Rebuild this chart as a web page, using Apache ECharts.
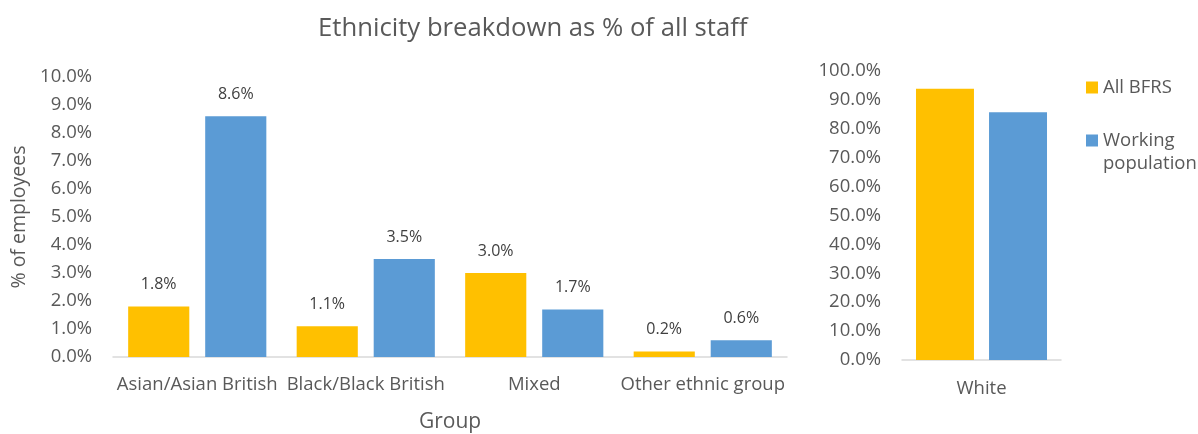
<!DOCTYPE html>
<html>
<head>
<meta charset="utf-8">
<script src="https://cdn.jsdelivr.net/npm/echarts@6/dist/echarts.min.js"></script>
<style>
  html, body { margin: 0; padding: 0; background: #fff; }
  #chart { width: 1198px; height: 434px; }
</style>
</head>
<body>
<div id="chart"></div>
<script>
// Ethnic groups other than White, shown on the 0-10% scale
const groups = ['Asian/Asian British', 'Black/Black British', 'Mixed', 'Other ethnic group'];
const allBfrs = [1.8, 1.1, 3.0, 0.2];
const workingPopulation = [8.6, 3.5, 1.7, 0.6];

// White, shown on its own 0-100% scale
const whiteGroup = ['White'];
const whiteAllBfrs = [93.9];
const whiteWorkingPopulation = [85.7];

const seriesNames = ['All BFRS', 'Working population'];
const colors = ['#FFC000', '#5B9BD5'];

const FONT = 'Open Sans';
const TEXT = '#595959';
const AXIS_LINE = '#D9D9D9';
const TICK_SIZE = 18.5;

const chart = echarts.init(document.getElementById('chart'), null, { renderer: 'canvas' });

const pct = v => v.toFixed(1) + '%';

const barLabel = {
  show: true,
  position: 'top',
  distance: 14,
  formatter: p => pct(p.value),
  color: '#404040',
  fontFamily: FONT,
  fontSize: 16
};

const legendBase = {
  orient: 'vertical',
  icon: 'rect', itemWidth: 12, itemHeight: 12,
  textStyle: { fontFamily: FONT, fontSize: 18.5, color: TEXT, lineHeight: 23 }
};

chart.setOption({
  animation: false,
  textStyle: { fontFamily: FONT },
  title: {
    text: 'Ethnicity breakdown as % of all staff',
    left: 313,
    top: 11,
    textStyle: { fontFamily: FONT, fontSize: 25.7, fontWeight: 'normal', color: TEXT }
  },
  legend: [
    Object.assign({}, legendBase, {
      data: [seriesNames[0]],
      left: 1081, top: 71
    }),
    Object.assign({}, legendBase, {
      data: [seriesNames[1]],
      left: 1081, top: 101,
      // blank first line keeps the swatch level with "Working"
      formatter: n => '\n' + n.replace(' ', '\n')
    })
  ],
  // fixed plot rectangles; axis text sits outside them
  grid: [
    { left: 113, right: 411, top: 77, bottom: 77, containLabel: false, outerBoundsMode: 'none' },
    { left: 902, right: 137, top: 71, bottom: 74, containLabel: false, outerBoundsMode: 'none' }
  ],
  xAxis: [
    {
      gridIndex: 0, type: 'category', data: groups,
      name: 'Group', nameLocation: 'middle', nameGap: 55,
      nameTextStyle: { fontFamily: FONT, fontSize: 21, color: TEXT },
      axisLine: { lineStyle: { color: AXIS_LINE, width: 1.5 } },
      axisTick: { show: false },
      axisLabel: { margin: 18, fontFamily: FONT, fontSize: TICK_SIZE, color: TEXT, interval: 0 }
    },
    {
      gridIndex: 1, type: 'category', data: whiteGroup,
      axisLine: { lineStyle: { color: AXIS_LINE, width: 1.5 } },
      axisTick: { show: false },
      axisLabel: { margin: 19, fontFamily: FONT, fontSize: TICK_SIZE, color: TEXT }
    }
  ],
  yAxis: [
    {
      gridIndex: 0, type: 'value', min: 0, max: 10, interval: 1,
      name: '% of employees', nameLocation: 'middle', nameGap: 82, nameRotate: 90,
      nameTextStyle: { fontFamily: FONT, fontSize: 19.5, color: TEXT },
      axisLine: { show: false }, axisTick: { show: false },
      splitLine: { show: false },
      axisLabel: { margin: 21, fontFamily: FONT, fontSize: TICK_SIZE, color: TEXT, formatter: v => pct(v) }
    },
    {
      gridIndex: 1, type: 'value', min: 0, max: 100, interval: 10,
      axisLine: { show: false }, axisTick: { show: false },
      splitLine: { show: false },
      axisLabel: { margin: 21, fontFamily: FONT, fontSize: TICK_SIZE, color: TEXT, formatter: v => pct(v) }
    }
  ],
  series: [
    {
      name: seriesNames[0], type: 'bar', xAxisIndex: 0, yAxisIndex: 0,
      data: allBfrs, itemStyle: { color: colors[0] },
      barGap: '26%', barCategoryGap: '18%', label: barLabel
    },
    {
      name: seriesNames[1], type: 'bar', xAxisIndex: 0, yAxisIndex: 0,
      data: workingPopulation, itemStyle: { color: colors[1] },
      barGap: '26%', barCategoryGap: '18%', label: barLabel
    },
    {
      name: seriesNames[0], type: 'bar', xAxisIndex: 1, yAxisIndex: 1,
      data: whiteAllBfrs, itemStyle: { color: colors[0] },
      barGap: '26%', barCategoryGap: '17.6%'
    },
    {
      name: seriesNames[1], type: 'bar', xAxisIndex: 1, yAxisIndex: 1,
      data: whiteWorkingPopulation, itemStyle: { color: colors[1] },
      barGap: '26%', barCategoryGap: '17.6%'
    }
  ]
});
</script>
</body>
</html>
